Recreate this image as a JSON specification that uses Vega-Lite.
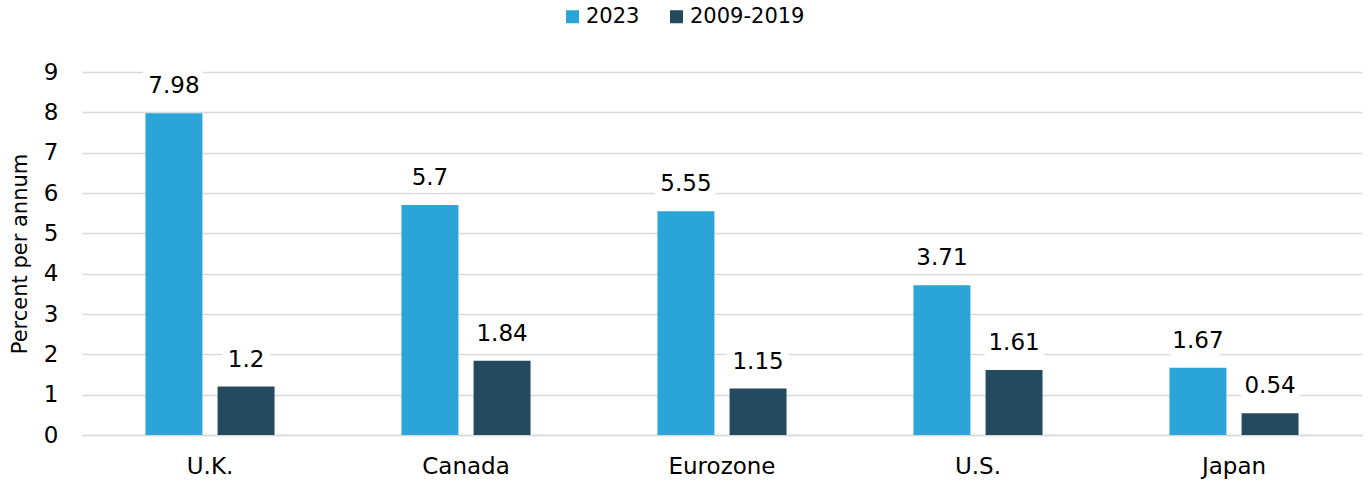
{
  "$schema": "https://vega.github.io/schema/vega-lite/v6.json",
  "width": 1280,
  "height": 363,
  "autosize": {"type": "none"},
  "padding": {"left": 82, "top": 72, "right": 9, "bottom": 52},
  "config": {
    "font": "DejaVu Sans",
    "view": {"stroke": null},
    "axis": {"labelColor": "#000000", "titleColor": "#000000", "labelFontSize": 23, "titleFontSize": 21, "titleFontWeight": "normal"},
    "legend": {"labelColor": "#000000", "labelFontSize": 21}
  },
  "data": {
    "values": [
      {"country": "U.K.", "series": "2023", "value": 7.98},
      {"country": "U.K.", "series": "2009-2019", "value": 1.2},
      {"country": "Canada", "series": "2023", "value": 5.7},
      {"country": "Canada", "series": "2009-2019", "value": 1.84},
      {"country": "Eurozone", "series": "2023", "value": 5.55},
      {"country": "Eurozone", "series": "2009-2019", "value": 1.15},
      {"country": "U.S.", "series": "2023", "value": 3.71},
      {"country": "U.S.", "series": "2009-2019", "value": 1.61},
      {"country": "Japan", "series": "2023", "value": 1.67},
      {"country": "Japan", "series": "2009-2019", "value": 0.54}
    ]
  },
  "encoding": {
    "x": {
      "field": "country",
      "type": "nominal",
      "sort": ["U.K.", "Canada", "Eurozone", "U.S.", "Japan"],
      "scale": {"paddingInner": 0, "paddingOuter": 0},
      "axis": {"title": null, "labelAngle": 0, "ticks": false, "domainColor": "#d9d9d9", "domainWidth": 1.5, "labelPadding": 20}
    },
    "xOffset": {
      "field": "series",
      "type": "nominal",
      "sort": ["2023", "2009-2019"],
      "scale": {"paddingInner": 0.21, "paddingOuter": 0.88}
    },
    "y": {
      "field": "value",
      "type": "quantitative",
      "scale": {"domain": [0, 9], "nice": false},
      "axis": {
        "title": "Percent per annum",
        "values": [0, 1, 2, 3, 4, 5, 6, 7, 8, 9],
        "grid": true,
        "gridColor": "#d9d9d9",
        "gridWidth": 1.5,
        "domain": false,
        "ticks": false,
        "labelPadding": 24,
        "titlePadding": 13
      }
    }
  },
  "layer": [
    {
      "mark": {"type": "bar"},
      "encoding": {
        "color": {
          "field": "series",
          "type": "nominal",
          "scale": {"domain": ["2023", "2009-2019"], "range": ["#2BA5D7", "#244A5E"]},
          "legend": {
            "title": null,
            "orient": "none",
            "legendX": 480,
            "legendY": -66,
            "direction": "horizontal",
            "symbolType": "square",
            "symbolSize": 169,
            "symbolStrokeWidth": 0,
            "columnPadding": 26,
            "labelOffset": 3
          }
        }
      }
    },
    {
      "mark": {"type": "text", "baseline": "middle", "dy": -27, "fontSize": 23, "fill": "white", "stroke": "white", "strokeWidth": 16, "strokeJoin": "round"},
      "encoding": {"text": {"field": "value", "type": "quantitative", "format": ".3~g"}}
    },
    {
      "mark": {"type": "text", "baseline": "middle", "dy": -27, "fontSize": 23, "fill": "#000000"},
      "encoding": {"text": {"field": "value", "type": "quantitative", "format": ".3~g"}}
    }
  ]
}
